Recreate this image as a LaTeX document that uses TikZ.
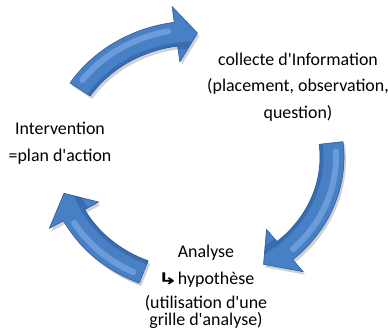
\documentclass[tikz,border=0pt]{standalone}
\usepackage{fontspec}
\usepackage{graphicx}
\newfontfamily\lblfont{Carlito}
\newfontfamily\symfont{DejaVu Sans}
\begin{document}
\begin{tikzpicture}[x=1pt,y=1pt,
  lbl/.style={align=center,inner sep=0pt,font=\lblfont\fontsize{17.9}{26.5}\selectfont},
  arrowfill/.style={fill={rgb,255:red,72;green,128;blue,198},draw={rgb,255:red,44;green,92;blue,158},line width=0.6pt,line join=round},
  arrowshadow/.style={fill=black,opacity=0.18},
  arrowshine/.style={draw={rgb,255:red,150;green,192;blue,240},line width=6pt,opacity=0.45,line cap=round},
  arrowdark/.style={draw={rgb,255:red,30;green,75;blue,140},line width=7pt,opacity=0.35}]
\useasboundingbox (0,0) rectangle (388,331);
\def\cx{195}\def\cy{174}\def\rx{137}\def\ry{124}\def\w{12}\def\hh{28}
% #1 tail angle, #2 head base angle, #3 tip angle
\newcommand\cyclearrowpath[3]{%
  ({\cx+(\rx+\w)*cos(#1)},{\cy+(\ry+\w)*sin(#1)})
  arc[start angle=#1,end angle=#2,x radius=\rx+\w,y radius=\ry+\w]
  -- ({\cx+(\rx+\hh)*cos(#2)},{\cy+(\ry+\hh)*sin(#2)})
  -- ({\cx+\rx*cos(#3)},{\cy+\ry*sin(#3)})
  -- ({\cx+(\rx-\hh)*cos(#2)},{\cy+(\ry-\hh)*sin(#2)})
  -- ({\cx+(\rx-\w)*cos(#2)},{\cy+(\ry-\w)*sin(#2)})
  arc[start angle=#2,end angle=#1,x radius=\rx-\w,y radius=\ry-\w]
  -- cycle}
\newcommand\cyclearrow[3]{%
  \begin{scope}[shift={(2,-3)}]
    \fill[arrowshadow] \cyclearrowpath{#1}{#2}{#3};
  \end{scope}
  \path[arrowfill] \cyclearrowpath{#1}{#2}{#3};
  \begin{scope}
    \clip \cyclearrowpath{#1}{#2}{#3};
    \draw[arrowdark] ({\cx+(\rx-\w)*cos(#1)},{\cy+(\ry-\w)*sin(#1)})
      arc[start angle=#1,end angle=#3,x radius=\rx-\w,y radius=\ry-\w];
  \end{scope}
  \draw[arrowshine] ({\cx+(\rx+4)*cos(#1-4)},{\cy+(\ry+4)*sin(#1-4)})
    arc[start angle=#1-4,end angle=#2+3,x radius=\rx+4,y radius=\ry+4];
}
\cyclearrow{147}{98}{89}
\cyclearrow{6.5}{-49}{-60}
\cyclearrow{248}{208}{197}
\node[lbl] (collecte) at (298,244) {collecte d'Information\\(placement, observation,\\question)};
\node[lbl] (intervention) at (60,187.5) {Intervention\\=plan d'action};
\node[lbl,font=\lblfont\fontsize{17.9}{27}\selectfont] (analyse) at (206,64.5) {Analyse\\{\symfont\bfseries\fontsize{16}{16}\selectfont\scalebox{1.5}[1]{↳}}hypothèse};
\node[lbl,font=\lblfont\fontsize{17.9}{17}\selectfont] (grille) at (206,19) {(utilisation d'une\\grille d'analyse)};
\end{tikzpicture}
\end{document}
